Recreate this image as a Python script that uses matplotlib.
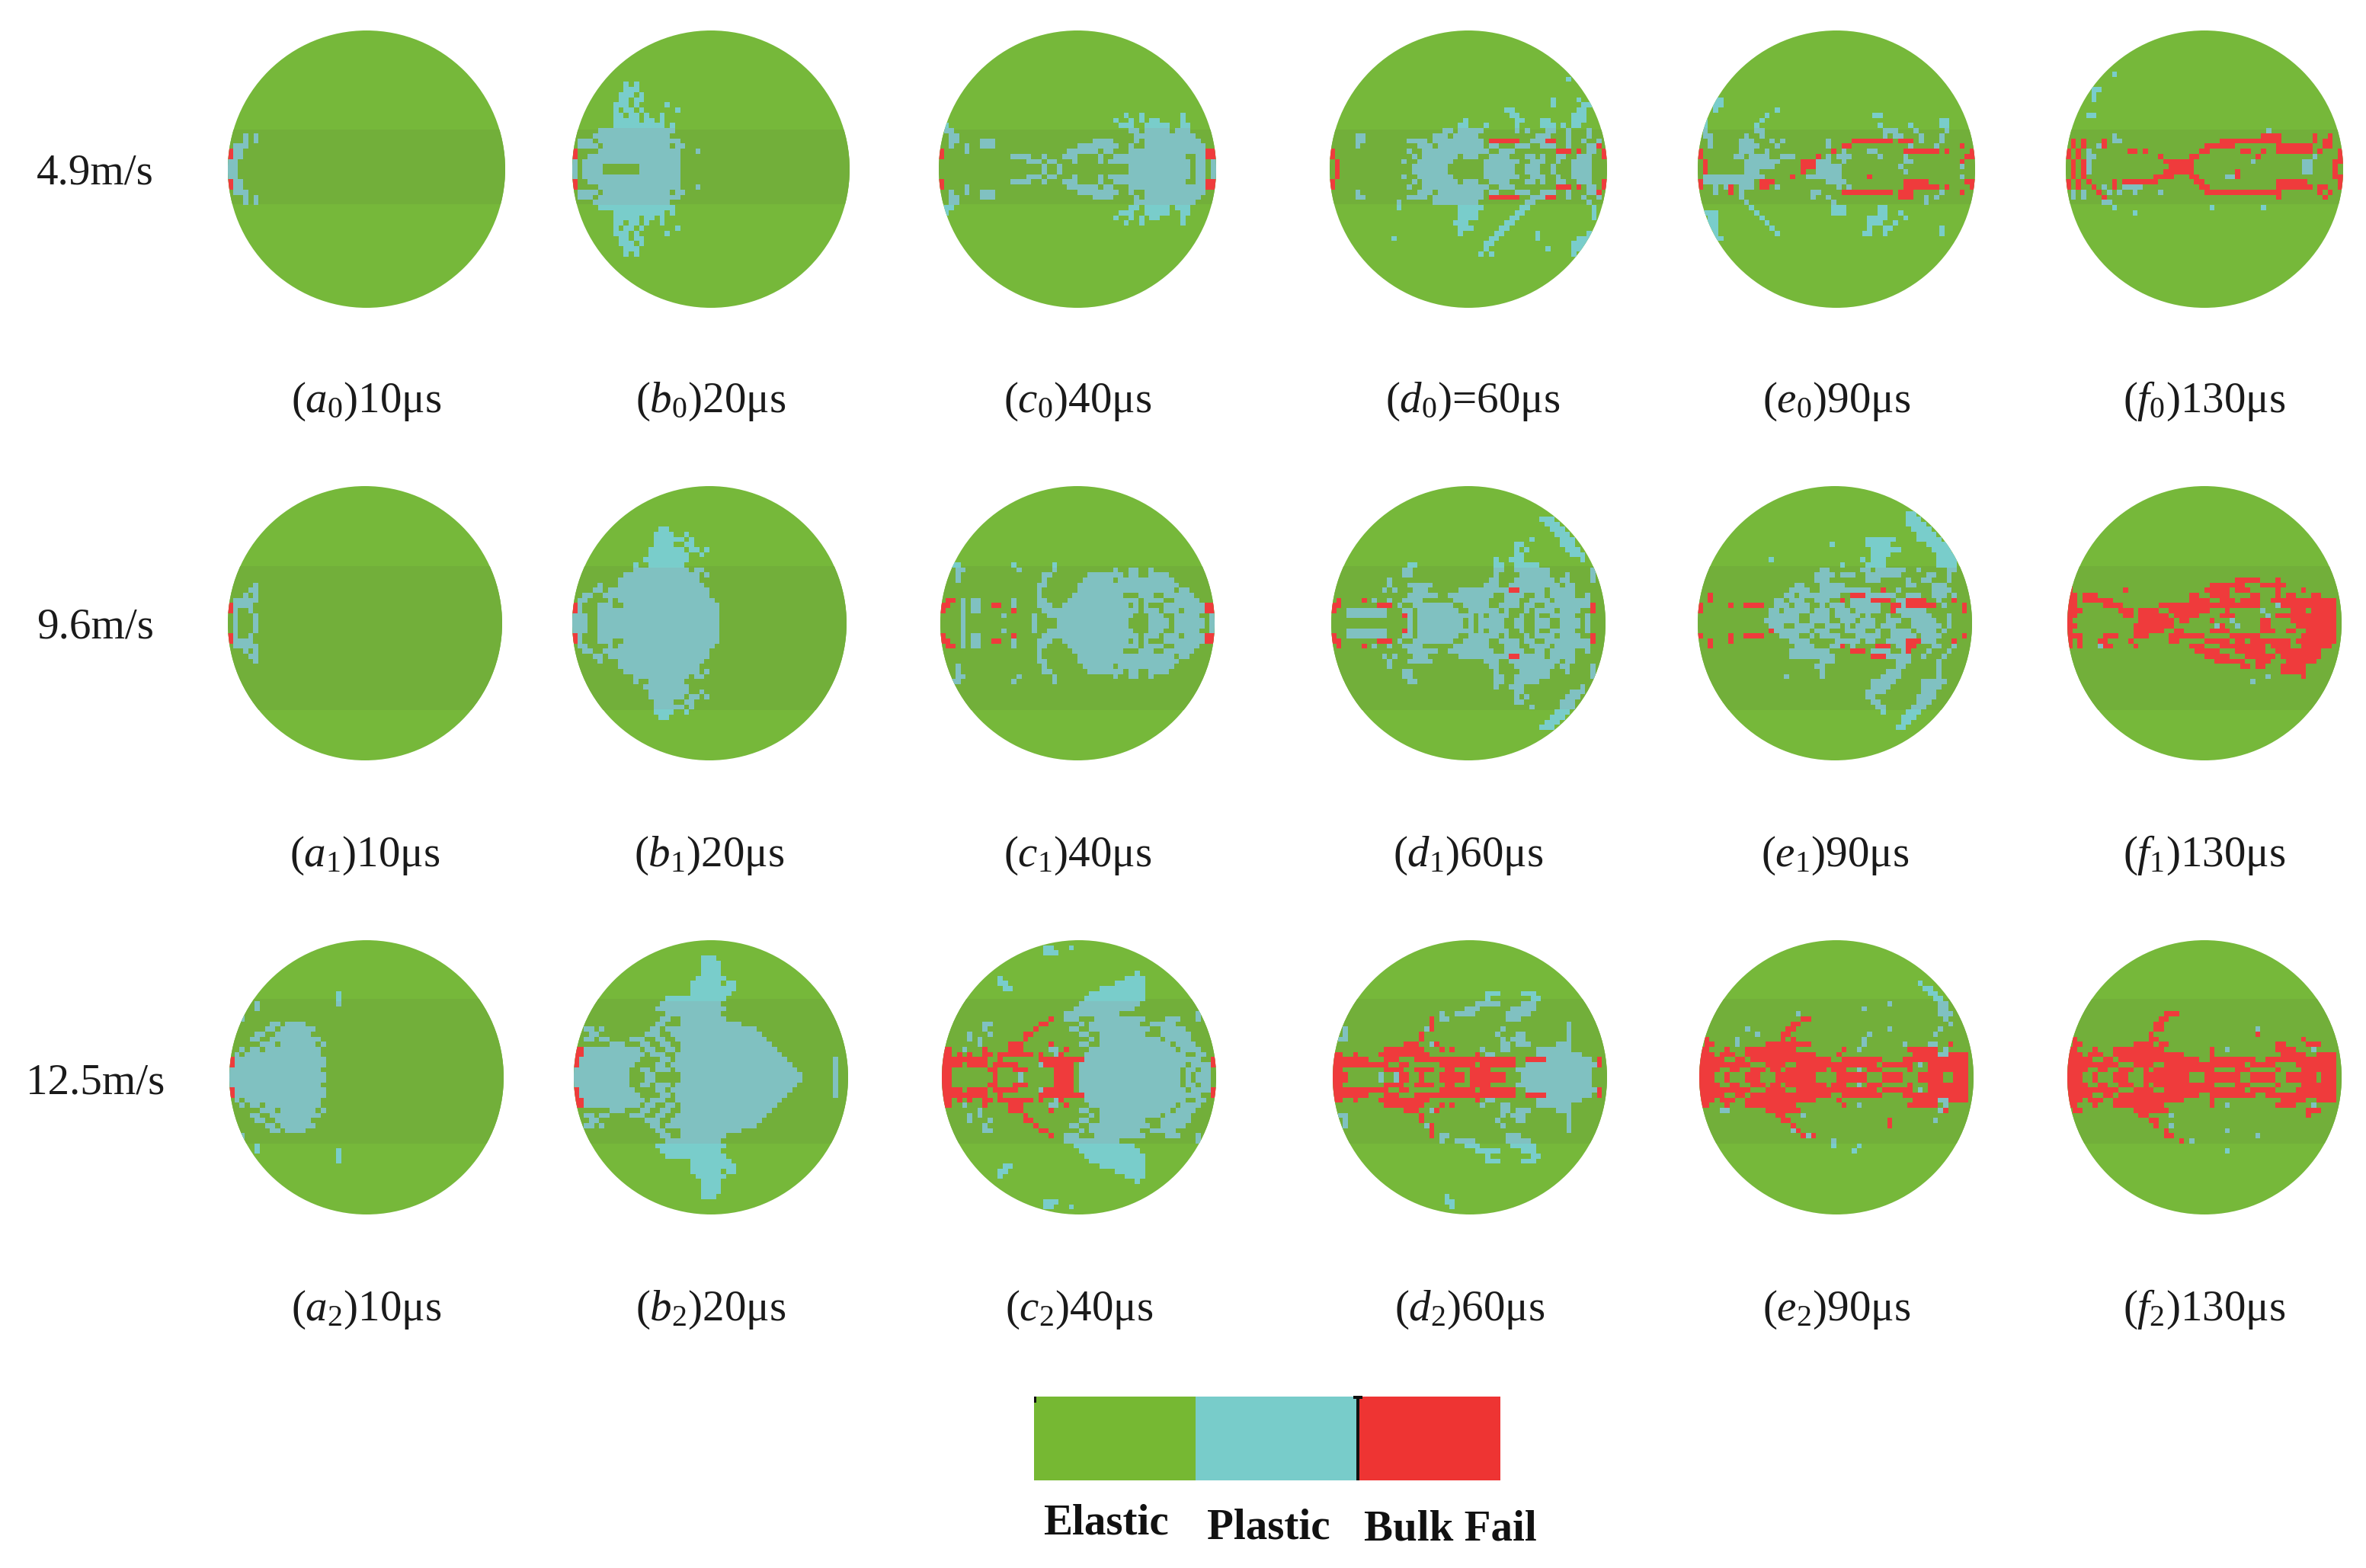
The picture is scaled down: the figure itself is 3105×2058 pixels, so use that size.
import numpy as np
import matplotlib
matplotlib.use('Agg')
import matplotlib.pyplot as plt
from matplotlib.patches import Circle, Rectangle

plt.rcParams['font.family'] = ['Liberation Serif', 'DejaVu Serif']
plt.rcParams['mathtext.fontset'] = 'custom'
plt.rcParams['mathtext.rm'] = 'Liberation Serif'
plt.rcParams['mathtext.it'] = 'Liberation Serif:italic'
plt.rcParams['mathtext.bf'] = 'Liberation Serif:bold'

# state maps. one string per grid row going outward from
# the disc centre line, numbers = columns from the left rim (54 columns),
# plain = plastic, r = bulk fail. lower half is mirrored unless given
A0 = ["0-1", "0-1", "r0 1-2", "r0 1-2", "1-3", "3 5", "3 5"]
B0 = ["0 2-5 13-20", "0 2-20", "r0 3-20", "r0 5-20 24", "1-4 6-18 20-21", "1-3 5-20", "4-18", "5-19",
      "8-17 19", "8-12 14-15 17", "8-9 11-12 14 17", "8 10-11 13 20", "8-10 12 18", "9-10 12-13", "9-11 13",
      "10-12", "10 12"]
C0 = ["20 23 37-48 50-51 53", "17-19 21-22 26 31 33-48 50-51 53", "r0 14-17 20 24-26 31 34-47 50-51 r52-53",
      "r0 5 25-30 32-33 37-51 r52-53", "2 5 8-10 27-34 37 40-51", "2-3 8-10 30-33 38 40-50", "2-3 38-39 40-49",
      "1-2 37-38 40-44 46-48", "1 35-36 37 40-44 47-48", "34 37 39 41-42 47", "36 39 47"]
D0 = ["r1 16-22 30-35 38-40 43 47-50", "r1 14 17-23 30-36 39-41 44 47-50",
      "r0 16 18-24 26-28 31-34 38-39 41 44-45 48-50 r53", "r0 15 18-30 33-35 r44-46 r48 50-51 r53",
      "5 17-19 21-29 31-32 36-38 41-43 46 50-51 r52", "5-6 15-18 20-29 r31-36 39-41 r42-43 46 49 52",
      "5-6 20-22 24-28 40-42 46 50", "22-23 25-29 36 38 42-43 46 50", "25-26 30 36 41-43 45 47-48",
      "26 36-37 41-42 47-49", "35-36 47-49", "34-35 48-49", "43 49-50", "43 48", "", "", "", "46"]
D0_LOW = D0[:6] + ["13 20-28 38-39 50", "13 25-29 37-38 51", "25-28 36-37 51", "25-28 35-36 51", "24-26 34-35",
                   "25-27 33-34", "25 32-33 40 50", "12 31-32 40 48-50", "30-31 47-50", "30 42 47-49", "29 31 47"]
E0 = ["r1 9-14 r20-22 23-27 39 51", "r1 9-15 r20-22 23-25 28 40-41 r51",
      "r0 7-8 10-13 16-18 r23 25 27-29 35 40 r52-53", "r0 8-10 13 r26 28 33-34 r40-45 r46 r48 r53",
      "2 8-11 15 25 r28-29 41 46 r51", "2 8-10 14 16 25 r30-37 r39-41 43 47", "1-2 9 12 36 38-39 43 47",
      "1 11-12 36-38 42 48", "0-1 11 35 41 47-48", "1 12 47-48", "1 13 34-35", "3 15", "3-4", "3-4", "3"]
E0_LOW = ["r1 9-11 r20 23-27 40", "r1 1-8 9-12 r18 21-27 r33 51", "r0 1-10 r12-14 25-28 r40-44 r52-53",
          "r0 3 5 r6 8-10 r12-13 15 27 29 r40-45 r46 r48 r53", "3 r6 8 22-23 r28-37 r39-41 47 r51",
          "8 22 25 r39-41 44 46", "9 26 44", "10 26-28 35-36", "1-3 11 26-28 35-36 39", "2-3 12 33-36 40",
          "2-3 13 33-35 38", "2-3 14 33 36-37 47", "3 15 32-33 36 47", "3-4"]
F0 = ["r1 r3 4 r20-24 46-47 r52", "r1 r3 4 r19-24 36 46-47 r52-53", "r0 r2 4-5 r18 r24-25 r37 48 r53",
      "r0 r2 4 r12-13 r15 r26-27 r34-35 r38 r41-47 r49 r53", "r1 r3 6 r7 r27-32 r41-47 r50 r51",
      "r1 r3 r7 9-10 r30-41 r48 r50-51", "9 r38-41 r48 r51", "39", "", "", "4-5", "", "", "5", "5", "5-6", "",
      "", "9"]
F0_LOW = ["r1 r3 4 r19-24 r33 46-47 r52", "r1 r3 r17-20 r24-25 31-32 r33 r52-53",
          "r0 r2 r4 r9 r11-17 r25-26 r41-46 r53", "r0 r2 r5 7 r9 11-14 r26-27 r41-47 r49-50 r53",
          "1 3 r6 8 10 13 18 r27-41 r49 r51", "1 3 r7 r41 r50", "7-8", "9 28 38", "13"]

A1 = ["1 5", "1 5", "r0 1 4", "r0 1-4", "1-5", "3 5", "4-5", "5"]
B1 = ["0-2 5-28", "0-2 5-28", "r0 1 5-28", "r0 1 5-7 10-28", "1-2 7 9-27", "2-3 6 7-26", "4-5 7-26", "5 9-25",
      "9-24", "10-24 26", "12-22 24-25", "12 15-21", "14-22", "15-22 25", "15-21 23-24 26", "16-19 22-23",
      "16-21 23", "16-19 22", "17-18"]
C1 = ["4 18 23-36 41-44 46-51 53", "4 12 18 21-37 41-43 46-50 53", "r0 4 6-7 r14 20-38 40-42 44-46 48-51 r52-53",
      "r0-1 4 6-7 r10-11 14 19-21 24-36 38 40 44-51 r52-53", "r1-2 4 6-7 14 19-20 25-36 37-38 40-43 46-50",
      "19 26-35 39-41 44-49", "19 27-45 47-48", "19-20 27-46", "3 20 28-33 35-45", "3 20-21 29-35 37-38 41-44",
      "3-4 15 22 34 37-38 41", "2-3 14 22"]
D1 = ["15 17-25 27 29-33 36-37 40-42 45-48 50", "r14 3-10 15 17-27 29 31-34 37 40 43-47 50",
      "r0 3-10 14-15 17-24 27-32 34 38 40-43 45-48 r51", "r0-1 r9-11 13 16-23 26-30 33-36 38-39 42-50 r51",
      "r1 r6 8 11 14-17 24-30 34-36 39-42 44-50", "15-20 23-31 34-37 40-41 43-47 50",
      "10 12 16-18 25-34 r35-36 37-41 43-47", "11 15-19 30-32 35-44 46-47", "11 31-32 36-43 45-46 51",
      "14-15 32 37-42 46 51", "14-15 32-33 36-42 51", "15-16 32-33 36-40", "32 35-37 49", "36-37 47-49",
      "36 38 46-48", "36-37 45-47", "39 45-47", "44-46", "43-45", "42-44", "41-43"]
E1 = ["13-19 22-25 28-30 32-34 37-39 42-46 49", "r14 14-19 22-25 27-31 33 37 40-45 49",
      "r0 14-15 17-21 23-25 27-29 31-35 r38-39 39-44 r52", "r0 r6 r9-12 15-17 19-21 24 26-28 30-35 r38-39 40 r41-46 48 r52",
      "r2 15-16 18-20 23-25 r28 30-33 r34-37 39-40 r41-44 47 r50", "r2 17-18 20-27 r30-32 33-38 41-43 46-48 50",
      "18-21 24-33 r36 39 46-49", "19-20 24-28 41-42 46-48", "23-25 33-35 41 44-45 49",
      "23-26 28-30 33-39 45-46 49", "24-25 32-33 35-40 43 49-50", "28 33-36 47-50", "14 32 34-36 47-50",
      "34-37 47-50", "34-39 46-49", "26 33-37 45-49", "33-38 43-47", "43-46", "42-45", "41-44", "41-43", "41-42"]
E1_LOW = ["14-16 19-22 25-27 29 31-34 36-38 42-47 49", "r14 15-21 23-25 29-32 35 38-41 43-46 48",
          "r0 r6 r9-12 16-19 22 24-27 31-35 38-42 44-47 r52", "r2 r6 18-21 27-31 33-34 37-40 r41-43 44-46 r50",
          "r2 19-22 26-27 r28 30 r35-37 39-40 r41-42 46-47 50", "18-25 r30-32 34-37 40 r41 45 49",
          "18-26 r34-36 37-41 44 48", "24-26 39-41 47", "23-24 39-40 47", "24 37-39 47", "17 24 36-39 47",
          "34-38 44-48", "34-37 44-47", "33-36 44-46", "33-34 43-46", "34-35 43-45", "35-36 42-44", "36 41-43",
          "40-42", "40-41", "39-40"]
F1 = ["r0 r14-20 r22-23 r28 32 r38-39 r44-52", "r0-1 r11-12 r14-19 r21-25 r30-32 39 r41-52",
      "r0-2 r10-12 r14-17 r20-27 r31 38 r44-46 r48-52", "r0-1 r7-10 r18-37 41 r42-52",
      "r0-1 r3-8 r24-27 r30-32 r34-37 r40-52", "r0-1 r3-5 r24-25 r28-31 r36-37 r41 r43-44 r48-49",
      "r0 r11 r27-31 r33-35 r41 r46", "r0 r28-34 r38-42", "r33-37 r41"]
F1_LOW = ["r0-1 r13-20 29 r30 33 r38-39 r45-52", "r0 r13-18 r21-22 r28-31 r38-40 r43-44 r47-52",
          "r0-2 r7-9 r13-15 r20-26 r32-37 r46-52", "r0 r2 r6-7 r12 r20-21 r27-31 r33-34 r36-43 r45-52",
          "r0 r2 6 r7-8 r13 r24-26 r30-38 r40-43 r46-51", "r25-29 r33-38 r41-49", "r27-31 r35-40 r42-49",
          "r29-34 r37-39 r43-48", "r34-35 r37-38 r42-46", "r42-46", "39 r46", "36"]

A2 = ["0-18", "0-17", "r0 1-18", "r0 1-18", "1 3-17", "2 4-5 7-17", "6-8 10-16 18", "4-5 8-17", "5-6 9-15",
      "7-8 10-16", "8-9 11-14", "2", "2", "5", "5 21", "21", "21"]
B2 = ["0-10 14-15 21-44 51", "0-10 13-14 16-18 20-43 51", "r0 1-11 16-17 19-42 51", "r0 1-12 17-18 20-41 51",
      "r0-1 2-13 15-17 20-40", "r0-1 2-4 5-12 14-15 18-19 21-39", "7-9 13-14 17-18 21-38",
      "2-3 5-6 11-13 16-17 20-37", "3-4 14-16 19-36", "2-3 5 15-16 18-35", "16-17 21-32", "17-18 21-29", "18-28",
      "16-29", "17-28", "18-29", "23-30", "23-31", "23-28 30-31", "24-29", "25-28", "25-28", "25-28", "25-27"]
C2 = ["r0-1 r10 15 r22-25 27-46 48 50-52", "r0-1 r9-10 r14-16 r22-25 27-46 48-49 51-52",
      "r0-3 r5-8 r10-14 19 r20-25 27-47 49-52 r53", "r0-8 r11 r19-27 28-50 r53", "r0-1 r3 r5 r8-9 r11-17 r19 22 r23 28-47 50-51",
      "r0-1 4 r8 r13-15 21-22 r24 29-45 47-50", "7 r13-15 r21 27-28 31-44 46-49", "5 7 r16 29 31-42 44-48",
      "5 9 r16-17 27-28 31-39 43-48", "8 r18 25-26 29-40 43-47", "8-9 r19-20 27 29-38 41-45",
      "r21 24-26 30-39 44-46 50", "24-34 50", "26-37", "27-38", "28-39", "29-39", "12-13 31-39", "11-12 34-39",
      "11 36-39", "38", "", "", "", "20-22", "20-21 25"]
D2 = ["r0-2 9 12 r13-14 r17 r21-25 r27-33 37-50", "r0-1 r10-13 r16-19 r22-23 r27-30 36-50",
      "r0-8 r9-10 r13-14 r21-27 r29-35 38-51 r52", "r0-6 r10-12 r16-18 r19-35 r38-41 42-50 r52",
      "r0-1 r4 r9-18 r28 30-31 40-48", "r10-17 r21 r23 29 33-34 40-46", "r14-16 19 r20 33-34 36-38 44-46",
      "1-2 r17 33 35-37 46", "2 r17 32 36-37 46", "2 18 r19 33 46", "r19 46", "r19 21-22 34-36",
      "21 24-27 34-38", "26-28 35-39", "28-32 37-39", "30 39-40", "30-32 37-39"]
D2_LOW = D2 + ["", "", "", "", "", "", "22", "22-23", "23"]
E2 = ["r0-2 r5 r9-11 r15-22 r27-32 r36-39 r43-47 r50-52", "r0-3 r6-7 r10-12 r14-15 r17-24 r26-28 31 r33-35 r41 r45-52",
      "r0-9 r13-16 r19-34 r36-41 43 r45-52", "r0-4 r7-8 r10-25 r28-35 r40-52", "r0-2 r4-6 r9-22 r27 47-48 r42-46 r49-52",
      "r0-1 r5 r9-18 r28 31 r41-46 48", "r1-2 7 r13-21 32 40 45-46 r49", "r1 7 r16 r18 32", "11 r16-17 33 46",
      "9 r17-18 37 47", "r18-19 49", "r20-21 48", "19 47-49", "32 47-48", "37 47-48", "46-47", "45-46", "44-45", "43"]
E2_LOW = E2[:6] + ["4-5 r13-19 47 r48", "r15-16 20", "r16-17 r37 46", "r18 r37", "18 r19", "r20 21 r22", "26", "26 31", "30"]
F2 = ["r0-2 r5 r9-11 r15-23 r27-33 r36-40 r43-48 r50-52", "r0-3 r6-7 r10-12 r15 r17-25 r26-28 r33-35 r41 r46-52",
      "r0-9 r13-16 r19-34 r36-40 r45-52", "r0-4 r7-8 r10-25 r28-36 r39-52", "r0-2 r4-6 r9-22 r28 r42-46 r49-52",
      "r0-1 r5 r9-18 r28 31 r41-44 48", "r1-2 r13-16 r18-19 r41-42 r47-49", "r1 r16-17 r46", "r16 37 r37",
      "r17-18 37", "r17-18", "r18-19", "r19-21"]
F2_LOW = F2[:6] + ["r1-2 r13-19 r47-49", "r14-15 20 r47", "r16-17", "r17 20", "r19 31", "r19-20 37", "r22 24", "", "31"]

PANELS = [[(A0, None), (B0, None), (C0, None), (D0, D0_LOW), (E0, E0_LOW), (F0, F0_LOW)],
          [(A1, None), (B1, None), (C1, None), (D1, None), (E1, E1_LOW), (F1, F1_LOW)],
          [(A2, None), (B2, None), (C2, None), (D2, D2_LOW), (E2, E2_LOW), (F2, F2_LOW)]]

letters = ['a', 'b', 'c', 'd', 'e', 'f']
times = ['10', '20', '40', '60', '90', '130']
speeds = ['4.9m/s', '9.6m/s', '12.5m/s']
legend_names = ['Elastic', 'Plastic', 'Bulk Fail']

# layout in reference pixels
center_x = [[481, 933, 1414, 1927, 2410, 2893],
            [479, 931, 1414, 1927, 2408, 2893],
            [481, 933, 1416, 1929, 2410, 2893]]
center_y = [222, 818, 1414]
radius = [182, 180, 180]
band_top = [170, 743, 1311]
band_bottom = [268, 932, 1501]
caption_y = [541, 1137, 1733]
speed_y = [242, 838, 1435]

GREEN = '#76B83A'
GREEN_BAND = '#72AF3A'
PLASTIC = np.array([0x79, 0xCD, 0xCB, 255]) / 255
PLASTIC_BAND = np.array([0x80, 0xC1, 0xC1, 255]) / 255
RED = np.array([0xEF, 0x3B, 0x3C, 255]) / 255
NCELL = 54


def fill_half(grid, rows, lower):
    for r, row in enumerate(rows):
        i = NCELL // 2 + r if lower else NCELL // 2 - 1 - r
        if i < 0 or i >= NCELL:
            continue
        for tok in row.split():
            val = 1
            if tok[0] == 'r':
                val = 2
                tok = tok[1:]
            a, _, b = tok.partition('-')
            grid[i, int(a):int(b or a) + 1] = val


def draw_disc(ax, cx, cy, R, top, bottom, up, low):
    grid = np.zeros((NCELL, NCELL), dtype=int)
    fill_half(grid, up, False)
    fill_half(grid, low if low is not None else up, True)
    disc = Circle((cx, cy), R, fc=GREEN, ec='none', zorder=1)
    ax.add_patch(disc)
    band = Rectangle((cx - R, top), 2 * R, bottom - top, fc=GREEN_BAND, ec='none', zorder=2)
    ax.add_patch(band)
    band.set_clip_path(disc)
    cell = 2 * R / NCELL
    img = np.zeros((NCELL, NCELL, 4))
    for i in range(NCELL):
        y_mid = cy - R + (i + 0.5) * cell
        in_band = top < y_mid < bottom
        img[i][grid[i] == 1] = PLASTIC_BAND if in_band else PLASTIC
        img[i][grid[i] == 2] = RED
    im = ax.imshow(img, extent=(cx - R, cx + R, cy + R, cy - R), interpolation='nearest', zorder=3)
    im.set_clip_path(Circle((cx, cy), R, transform=ax.transData))


fig = plt.figure(figsize=(31.05, 20.58), dpi=100)
ax = fig.add_axes([0, 0, 1, 1])

for row in range(3):
    for col in range(6):
        up, low = PANELS[row][col]
        draw_disc(ax, center_x[row][col], center_y[row], radius[row], band_top[row], band_bottom[row], up, low)
        eq = '=' if row == 0 and col == 3 else ''
        label = '$(' + letters[col] + '_{' + str(row) + '})$' + eq + times[col] + 'μs'
        x = center_x[row][col] + (6 if eq else 0)
        ax.text(x, caption_y[row], label, fontsize=41, ha='center', va='baseline', color='#1a1a1a')
    ax.text(125, speed_y[row], speeds[row], fontsize=41, ha='center', va='baseline', color='#1a1a1a')

# legend strip
ax.add_patch(Rectangle((1357, 1833), 212, 110, fc='#76B833', ec='none'))
ax.add_patch(Rectangle((1569, 1833), 211, 110, fc='#78CCCA', ec='none'))
ax.add_patch(Rectangle((1780, 1833), 189, 110, fc='#EE3433', ec='none'))
ax.add_patch(Rectangle((1780, 1833), 4, 110, fc='#111111', ec='none'))
ax.add_patch(Rectangle((1776, 1832), 12, 4, fc='#111111', ec='none'))
ax.add_patch(Rectangle((1357, 1833), 3, 8, fc='#111111', ec='none'))
ax.text(1451, 2013, legend_names[0], fontsize=41, fontweight='bold', ha='center', va='baseline', color='#111111')
ax.text(1665, 2020, legend_names[1], fontsize=41, fontweight='bold', ha='center', va='baseline', color='#111111')
ax.text(1903, 2022, legend_names[2], fontsize=41, fontweight='bold', ha='center', va='baseline', color='#111111')

ax.set_xlim(0, 3105)
ax.set_ylim(2058, 0)
ax.set_aspect('auto')
ax.axis('off')
fig.savefig('out.png', dpi=100, facecolor='white')
